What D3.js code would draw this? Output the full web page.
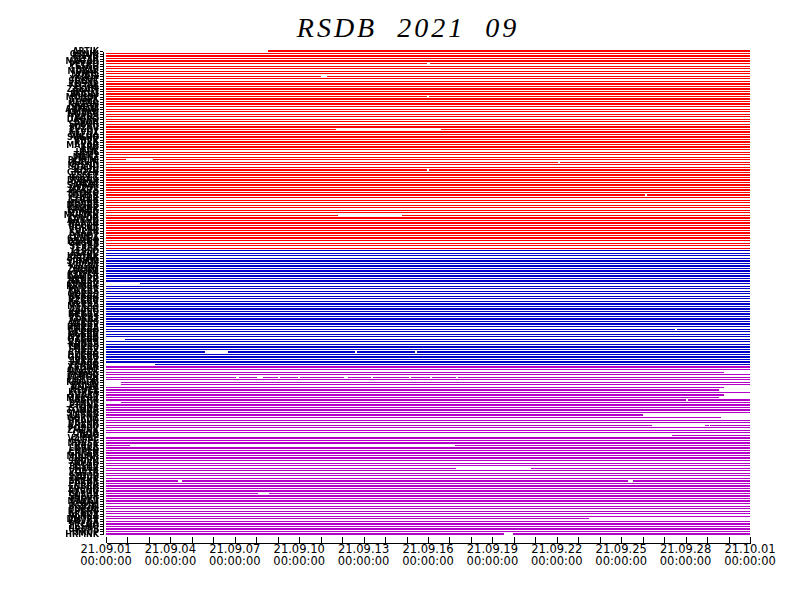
<!DOCTYPE html>
<html><head><meta charset="utf-8">
<script src="https://cdn.jsdelivr.net/npm/d3@7"></script>
<style>body{margin:0;background:#fff}</style>
</head><body><svg id="c" width="792" height="612"></svg>
<script>
const titleText = "RSDB  2021  09";
const redStations = ("ARTIK OBNIN KIEVS TLYAR MAGAD PETRO YSSKH BILIB MDYAK NORIL " +
  "TIKSI YAKUT SEYMC KBSAR ELTAL ZAKAM IRKUT BODAI MONDY TLGRK " +
  "UDIMA KAZAN SVETL ANNAM KMYAN NOVSB TARUS DAGRO APATI SPBUR " +
  "PULKV LVZOV KEVOZ VALDA SUKHO BRVK KURK MAKAR ZRN AAK " +
  "ULHL TKM2 MAKZ BORDE KALIN KRSND SOCHI KISLV GROZN ESSEY " +
  "UGLEG DUBNA PARAT SAMAR LOZOV YAKTS SKORO TOMSK CHELR GLRNK " +
  "KHABR MOSRS KAZNK ERMAK ZUYEV MURMN KOVDR ARKHN NARYN PECHR " +
  "VORKT KULAK SYKTV LOVOZ CRMEA DSHNB ORSKY STVRP TEREK").split(" ");
const blueStations = ("ESSO KLYUC KRONK PETRK SPNKM TUMRK KBGRT ZHUPN BKIRL KDTKR " +
  "KAMSR IVNKR NKRSK SMKRV KRMRK PNKRV DLKRS ODKRS NLKRV BZKRN " +
  "KZKRV ULKRS MYKRS AVACH KPKRS RKKRV YEKRS KOKRT VLKRS SHKRV " +
  "PMKRS TRKRS EKKRN MLKRV NVKRS OZKRN BDKRS KRNRS TMKRS SRKRV " +
  "CHKRS DZKRN GNKRS ISKRV LKKRS ZVKRN").split(" ");
const magentaStations = ("YSHNK OKHOT NOGLK TYMOV PORON UGLGR KHOLM DOLIN ANIVA NEVEL " +
  "KORSA SHAKT MAKRV VAKHR BYKOV ILINS STRDB TOMAR SMRNK LESNV " +
  "GORNZ PRAVD UGLNR KRASN POSDV ZMLNK ONOR ADO VZMRE SLEPC " +
  "NOVSK KRSK LNVKA CHPLN GRNTK MGLNK DBRKI SRGVK NYSH BLSHV " +
  "TIKLR VOSTK KOSTR STDUB ORLVK BRZVK PBDA ENBRK ZRCHN RYBNV " +
  "GLSHV SNEGR TROKT MAYKV KUMLI BGRTN SOKOL KPKNV ARKOV VLNKA " +
  "DMTRV KRVKA PYLNA LESNO URUPS ITRUP HRMNK").split(" ");
const groupColors = ["#ff0000", "#0000c8", "#b400c8"];
const periodStart = "2021-09-01T00:00:00Z";
const periodEnd = "2021-10-01T00:00:00Z";
const labelDays = [0, 3, 6, 9, 12, 15, 18, 21, 24, 27, 30];
const tickLabelsDate = ["21.09.01","21.09.04","21.09.07","21.09.10","21.09.13","21.09.16","21.09.19","21.09.22","21.09.25","21.09.28","21.10.01"];
const tickLabelTime = "00:00:00";
// data gaps: [station index, from day, to day] (days since period start)
const gaps = [
  [0, 0, 7.55], [5, 14.95, 15.1], [10, 10.0, 10.3], [18, 14.95, 15.05], [31, 10.7, 15.6],
  [43, 0.93, 2.2], [44, 21.05, 21.15], [47, 14.95, 15.05], [57, 25.1, 25.2], [65, 10.8, 13.8],
  [92, 0, 1.6], [110, 26.5, 26.6], [114, 0, 0.9], [119, 4.6, 5.7], [119, 11.6, 11.7], [119, 14.4, 14.5],
  [124, 0, 2.3], [127, 28.8, 30],
  [129, 6.05, 6.2], [129, 7.05, 7.3], [129, 8.0, 8.1], [129, 8.95, 9.05], [129, 11.1, 11.25],
  [129, 12.35, 12.45], [129, 14.1, 14.2], [129, 15.1, 15.2], [129, 16.3, 16.4],
  [131, 0, 0.7], [132, 0, 0.7], [133, 28.8, 30], [134, 28.55, 30],
  [136, 28.8, 30], [137, 28.55, 30], [138, 27.0, 27.1], [139, 0, 0.7], [144, 25.0, 30], [145, 28.65, 30],
  [148, 25.43, 27.9], [148, 28.1, 28.15], [152, 0, 26.37], [156, 1.1, 16.25], [165, 16.3, 19.8],
  [170, 3.35, 3.55], [170, 24.3, 24.55], [175, 7.1, 7.6], [185, 22.5, 30], [191, 18.55, 18.96]
];

const stations = redStations.concat(blueStations, magentaStations);
const groupOf = stations.map((s, i) => i < redStations.length ? 0 : (i < redStations.length + blueStations.length ? 1 : 2));
const N = stations.length;
const t0 = new Date(periodStart), t1 = new Date(periodEnd);
const dayToDate = d => new Date(t0.getTime() + d * 86400000);

const svg = d3.select("#c");
const x = d3.scaleUtc().domain([t0, t1]).range([106, 750]);
const y = d3.scalePoint().domain(d3.range(N)).range([51, 534]);

// title
svg.append("text").attr("x", 408).attr("y", 37).attr("text-anchor", "middle")
  .style("font-family", "'Liberation Serif', serif").style("font-style", "italic")
  .style("font-size", "28px").style("letter-spacing", "3px").style("white-space", "pre")
  .attr("fill", "#000").text(titleText);

// segments
const segs = [];
stations.forEach((s, i) => {
  const g = gaps.filter(d => d[0] === i).map(d => [d[1], d[2]]).sort((a, b) => a[0] - b[0]);
  let cur = 0;
  g.forEach(([a, b]) => { if (a > cur) segs.push({i, a: cur, b: a}); cur = Math.max(cur, b); });
  if (cur < 30) segs.push({i, a: cur, b: 30});
});
svg.append("g").attr("shape-rendering", "crispEdges").selectAll("line").data(segs).join("line")
  .attr("x1", d => x(dayToDate(d.a))).attr("x2", d => x(dayToDate(d.b)))
  .attr("y1", d => y(d.i)).attr("y2", d => y(d.i))
  .attr("stroke", d => groupColors[groupOf[d.i]]).attr("stroke-width", 1.3);

// y axis
const ya = svg.append("g").attr("transform", "translate(103,0)").attr("opacity", 0.999)
  .call(d3.axisLeft(y).tickSize(3).tickSizeOuter(0).tickPadding(1).tickFormat(i => stations[i]));
ya.selectAll("text").style("font-family", "'DejaVu Sans', sans-serif").style("font-size", "8px")
  .style("font-weight", "bold").attr("fill", "#000");
ya.selectAll("line,path").attr("stroke", "#000").attr("shape-rendering", "crispEdges");

// x axis
const xa = svg.append("g").attr("transform", "translate(0,543)")
  .call(d3.axisBottom(x).ticks(d3.utcDay.every(1)).tickSizeInner(-6).tickSizeOuter(0).tickFormat(""));
xa.selectAll("line,path").attr("stroke", "#000").attr("shape-rendering", "crispEdges");
const lab = svg.append("g").style("font-family", "'DejaVu Sans', sans-serif").style("font-size", "11.5px").attr("fill", "#000");
labelDays.forEach((d, k) => {
  const t = lab.append("text").attr("x", x(dayToDate(d))).attr("text-anchor", "middle");
  t.append("tspan").attr("x", x(dayToDate(d))).attr("y", 553).text(tickLabelsDate[k]);
  t.append("tspan").attr("x", x(dayToDate(d))).attr("y", 565).text(tickLabelTime);
});
</script></body></html>
